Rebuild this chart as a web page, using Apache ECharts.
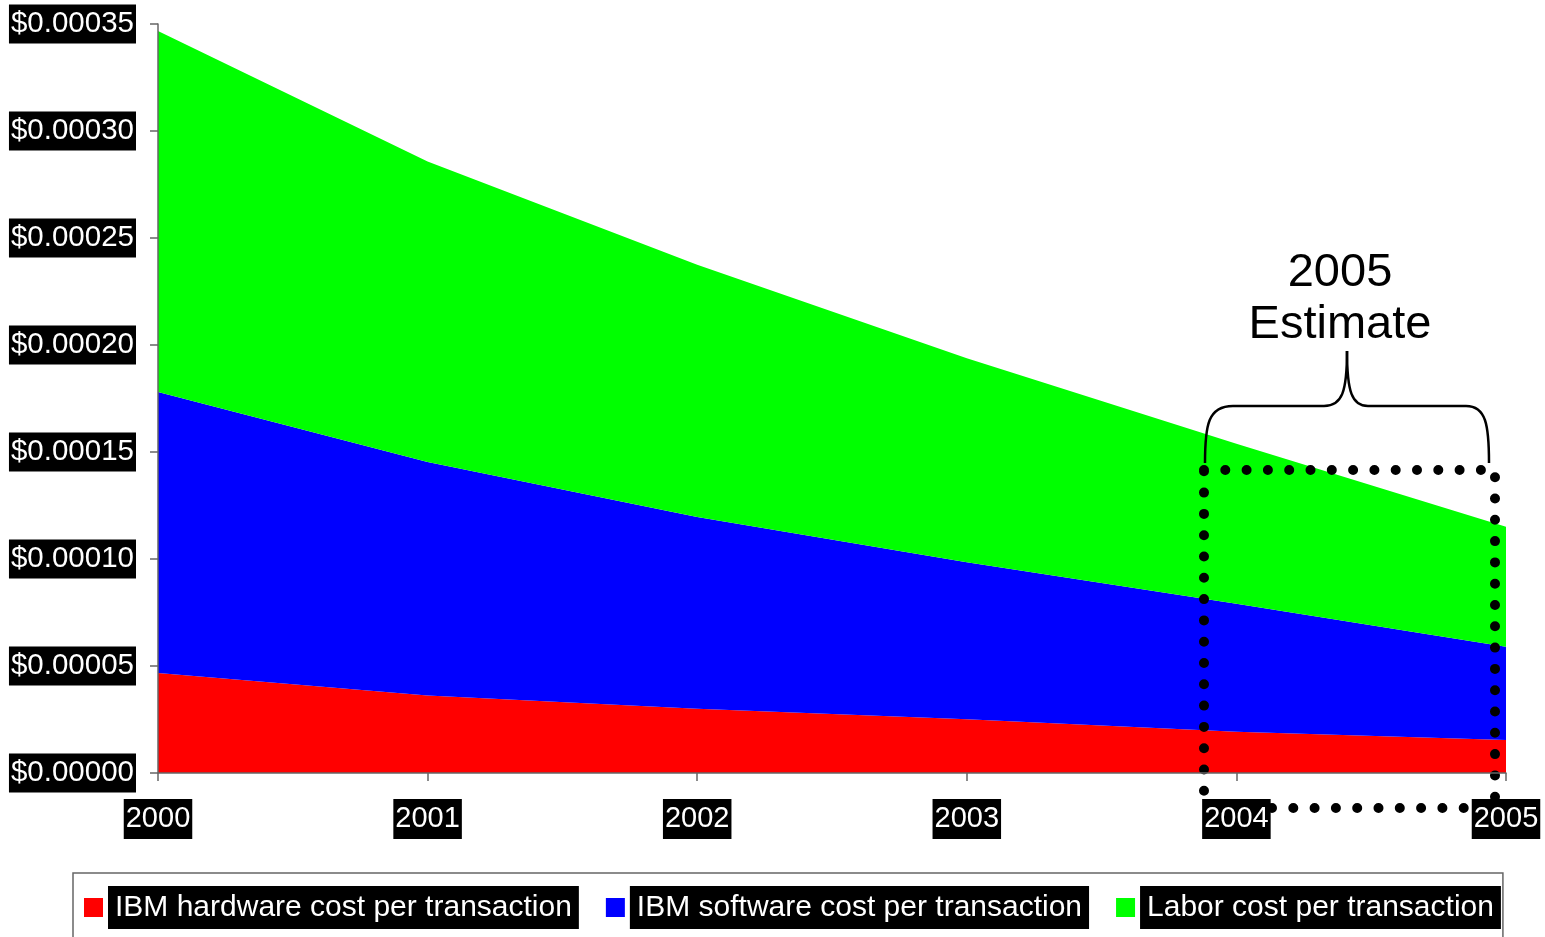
<!DOCTYPE html>
<html>
<head>
<meta charset="utf-8">
<script src="https://cdn.jsdelivr.net/npm/echarts@6/dist/echarts.min.js"></script>
<style>
html,body{margin:0;padding:0;background:#fff;}
#chart{width:1545px;height:937px;}
</style>
</head>
<body>
<div id="chart"></div>
<script>
const years = ['2000', '2001', '2002', '2003', '2004', '2005'];
const hardwareCost = [0.0000467, 0.0000362, 0.0000300, 0.0000251, 0.0000193, 0.0000154];
const softwareCost = [0.0001313, 0.0001091, 0.0000896, 0.0000734, 0.0000598, 0.0000436];
const laborCost = [0.0001687, 0.0001404, 0.0001179, 0.0000953, 0.0000748, 0.0000561];
const seriesNames = ['IBM hardware cost per transaction', 'IBM software cost per transaction', 'Labor cost per transaction'];
const seriesColors = ['#ff0000', '#0000ff', '#00ff00'];
const annotationLines = ['2005', 'Estimate'];

const FONT = '"Liberation Sans", Arial, sans-serif';
const chart = echarts.init(document.getElementById('chart'));

function areaSeries(name, data, color) {
  return {
    name: name,
    type: 'line',
    stack: 'total',
    data: data,
    showSymbol: false,
    symbol: 'none',
    lineStyle: { width: 0, color: color },
    itemStyle: { color: color },
    areaStyle: { color: color, opacity: 1 },
    emphasis: { disabled: true },
    z: 2
  };
}

const braceStyle = { fill: 'none', stroke: '#000000', lineWidth: 2.5 };
function bez(x1, y1, c1x, c1y, c2x, c2y, x2, y2) {
  return { type: 'bezierCurve', z: 5, silent: true,
    shape: { x1: x1, y1: y1, cpx1: c1x, cpy1: c1y, cpx2: c2x, cpy2: c2y, x2: x2, y2: y2 },
    style: braceStyle };
}
function seg(x1, y1, x2, y2) {
  return { type: 'line', z: 5, silent: true, shape: { x1: x1, y1: y1, x2: x2, y2: y2 }, style: braceStyle };
}

const option = {
  animation: false,
  backgroundColor: '#ffffff',
  grid: { left: 158, right: 39, top: 24, bottom: 164, containLabel: false },
  xAxis: {
    type: 'category',
    data: years,
    boundaryGap: false,
    z: 10,
    axisLine: { lineStyle: { color: '#666666', width: 1.5 } },
    axisTick: { show: true, length: 8, lineStyle: { color: '#666666', width: 1.5 } },
    axisLabel: {
      margin: 26,
      color: '#ffffff',
      fontFamily: FONT,
      fontSize: 29,
      lineHeight: 34,
      backgroundColor: '#000000',
      padding: [3, 2, 3, 2]
    },
    splitLine: { show: false }
  },
  yAxis: {
    type: 'value',
    min: 0,
    max: 0.00035,
    interval: 0.00005,
    z: 10,
    axisLine: { show: true, lineStyle: { color: '#666666', width: 1.5 } },
    axisTick: { show: true, length: 8, lineStyle: { color: '#666666', width: 1.5 } },
    axisLabel: {
      margin: 22,
      color: '#ffffff',
      fontFamily: FONT,
      fontSize: 29.5,
      lineHeight: 33,
      backgroundColor: '#000000',
      padding: [3, 2, 3, 2],
      formatter: function (v) { return '$' + Math.abs(v).toFixed(5); }
    },
    splitLine: { show: false }
  },
  legend: {
    left: 73,
    top: 873,
    orient: 'horizontal',
    icon: 'rect',
    itemWidth: 19,
    itemHeight: 19,
    itemGap: 27,
    padding: [13, 2, 40, 11],
    borderColor: '#666666',
    borderWidth: 1.5,
    selectedMode: false,
    data: seriesNames,
    textStyle: {
      color: '#ffffff',
      fontFamily: FONT,
      fontSize: 30,
      lineHeight: 35,
      backgroundColor: '#000000',
      padding: [4, 7, 4, 7]
    }
  },
  series: [
    areaSeries(seriesNames[0], hardwareCost, seriesColors[0]),
    areaSeries(seriesNames[1], softwareCost, seriesColors[1]),
    areaSeries(seriesNames[2], laborCost, seriesColors[2])
  ],
  graphic: [
    {
      type: 'rect',
      z: 5,
      silent: true,
      shape: { x: 1204, y: 470, width: 291, height: 338 },
      style: { fill: 'none', stroke: '#000000', lineWidth: 10, lineDash: [0, 21.3], lineCap: 'round' }
    },
    bez(1205, 463, 1205, 425, 1208, 406, 1233, 406),
    seg(1233, 406, 1324, 406),
    bez(1324, 406, 1342, 406, 1347, 392, 1347, 351),
    bez(1347, 351, 1347, 392, 1352, 406, 1368, 406),
    seg(1368, 406, 1466, 406),
    bez(1466, 406, 1486, 406, 1489, 425, 1489, 463),
    {
      type: 'text',
      z: 5,
      silent: true,
      style: { text: annotationLines[0], x: 1340, y: 297, align: 'center', verticalAlign: 'bottom', font: '47px ' + FONT, fill: '#000000' }
    },
    {
      type: 'text',
      z: 5,
      silent: true,
      style: { text: annotationLines[1], x: 1340, y: 349, align: 'center', verticalAlign: 'bottom', font: '47px ' + FONT, fill: '#000000' }
    }
  ]
};
chart.setOption(option);
</script>
</body>
</html>
